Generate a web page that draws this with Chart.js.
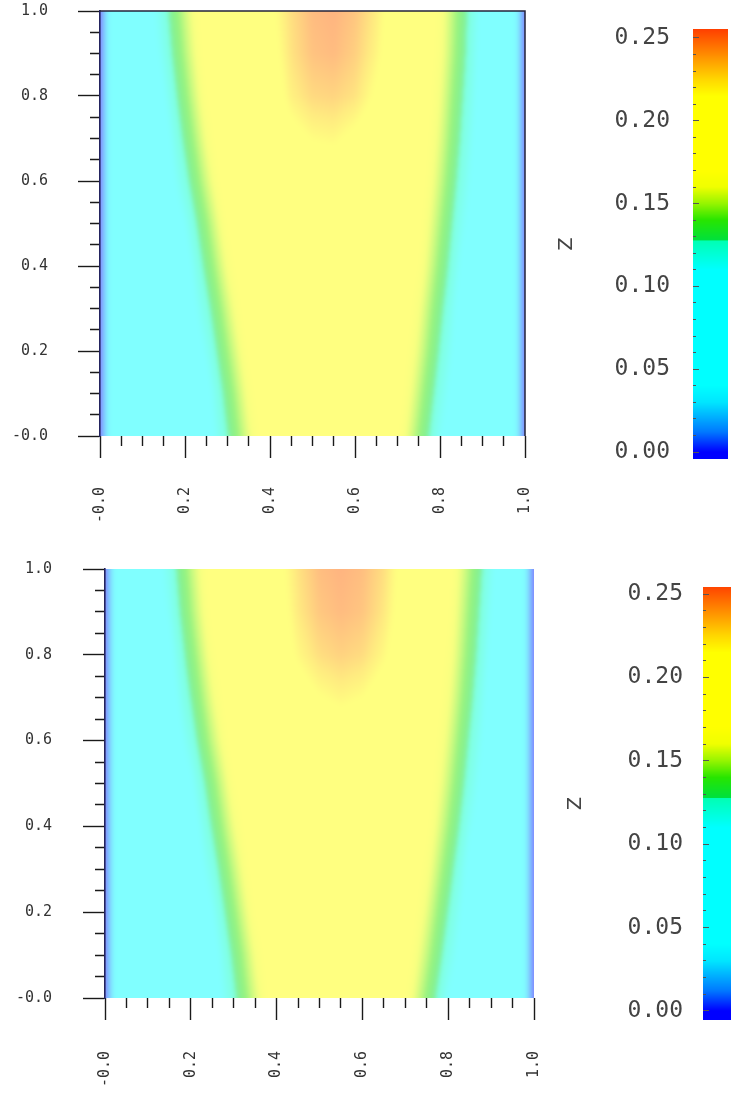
<!DOCTYPE html>
<html>
<head>
<meta charset="utf-8">
<script src="https://cdn.jsdelivr.net/npm/chart.js@4.4.1/dist/chart.umd.min.js"></script>
<style>
  html, body { margin: 0; padding: 0; background: #fff; }
  body { width: 731px; height: 1093px; position: relative; overflow: hidden; }
  canvas { position: absolute; }
</style>
</head>
<body>
<canvas id="mapTop" width="545" height="545" style="left:0;top:0"></canvas>
<canvas id="barTop" width="191" height="480" style="left:540px;top:0"></canvas>
<canvas id="mapBottom" width="560" height="543" style="left:0;top:550px"></canvas>
<canvas id="barBottom" width="181" height="480" style="left:550px;top:560px"></canvas>
<script>
// grid nodes of the Z field
const xGrid = [0, 0.05, 0.1, 0.15, 0.2, 0.25, 0.3, 0.35, 0.4, 0.45, 0.5, 0.55, 0.6, 0.65, 0.7, 0.75, 0.8, 0.85, 0.9, 0.95, 1];
const yGrid = [0, 0.1, 0.2, 0.3, 0.4, 0.5, 0.6, 0.7, 0.8, 0.9, 1];

// Z values, one row per yGrid entry (bottom row first)
const zTop = [
  [0, .085, .092, .092, .093, .100, .127, .157, .183, .193, .195, .195, .195, .189, .172, .142, .112, .095, .092, .085, 0],
  [0, .085, .092, .092, .093, .104, .134, .164, .186, .194, .195, .195, .195, .191, .178, .149, .119, .097, .092, .085, 0],
  [0, .085, .092, .092, .095, .113, .143, .172, .189, .195, .195, .195, .195, .193, .182, .156, .126, .100, .092, .085, 0],
  [0, .085, .092, .093, .098, .122, .152, .180, .192, .195, .195, .195, .195, .194, .186, .162, .132, .103, .093, .085, 0],
  [0, .085, .092, .093, .102, .132, .162, .185, .194, .195, .195, .195, .195, .195, .188, .169, .139, .109, .094, .085, 0],
  [0, .085, .092, .095, .111, .141, .171, .189, .195, .195, .196, .196, .195, .195, .190, .174, .145, .115, .096, .085, 0],
  [0, .085, .093, .098, .122, .152, .180, .192, .196, .198, .200, .200, .199, .196, .192, .179, .151, .121, .097, .085, 0],
  [0, .085, .093, .102, .131, .161, .185, .194, .198, .208, .216, .218, .210, .200, .193, .182, .156, .126, .099, .085, 0],
  [0, .085, .094, .109, .139, .169, .188, .195, .200, .222, .232, .234, .228, .212, .195, .184, .160, .130, .102, .085, 0],
  [0, .085, .096, .116, .146, .175, .190, .195, .205, .228, .241, .244, .236, .220, .198, .186, .164, .134, .104, .085, 0],
  [0, .085, .097, .121, .151, .179, .192, .197, .210, .230, .244, .247, .240, .224, .200, .187, .166, .136, .106, .085, 0]
];
const zBottom = [
  [0, .085, .092, .092, .093, .099, .124, .154, .181, .193, .195, .195, .195, .188, .170, .140, .110, .095, .092, .085, 0],
  [0, .085, .092, .092, .093, .102, .131, .161, .185, .194, .195, .195, .195, .191, .177, .149, .119, .097, .092, .085, 0],
  [0, .085, .092, .092, .095, .110, .140, .170, .188, .195, .195, .195, .195, .193, .183, .157, .127, .100, .092, .085, 0],
  [0, .085, .092, .093, .097, .119, .149, .178, .191, .195, .195, .195, .195, .194, .187, .165, .135, .105, .093, .085, 0],
  [0, .085, .092, .093, .100, .129, .159, .184, .193, .195, .195, .195, .195, .195, .189, .172, .143, .113, .095, .085, 0],
  [0, .085, .092, .094, .108, .138, .168, .188, .195, .195, .196, .196, .196, .195, .192, .178, .150, .120, .097, .085, 0],
  [0, .085, .093, .096, .119, .149, .177, .191, .196, .197, .199, .200, .200, .197, .193, .182, .156, .126, .100, .085, 0],
  [0, .085, .093, .101, .128, .158, .183, .193, .196, .205, .214, .219, .215, .205, .195, .186, .162, .132, .103, .085, 0],
  [0, .085, .094, .106, .136, .166, .187, .195, .200, .218, .230, .235, .231, .218, .200, .187, .167, .137, .107, .085, 0],
  [0, .085, .095, .113, .143, .173, .189, .195, .203, .225, .239, .244, .240, .226, .203, .189, .171, .141, .111, .085, 0],
  [0, .085, .096, .118, .148, .177, .191, .196, .207, .228, .243, .247, .243, .230, .205, .190, .174, .145, .115, .085, 0]
];

const axisTicks = [0, 0.2, 0.4, 0.6, 0.8, 1.0];
const axisLabels = ['-0.0', '0.2', '0.4', '0.6', '0.8', '1.0'];
const zTicks = [0, 0.05, 0.1, 0.15, 0.2, 0.25];
const zLabels = ['0.00', '0.05', '0.10', '0.15', '0.20', '0.25'];

// rainbow colour table
const cmapVals = [0, 0.012, 0.03, 0.04, 0.11, 0.1275, 0.128, 0.14, 0.15, 0.16, 0.17, 0.215, 0.225, 0.24, 0.25, 0.256];
const cmapRGB = [
  [0, 0, 255], [0, 120, 255], [0, 230, 255], [0, 255, 255], [0, 255, 255], [0, 255, 180],
  [0, 225, 60], [40, 230, 0], [150, 245, 0], [240, 255, 0], [255, 255, 0], [255, 255, 0],
  [255, 215, 0], [255, 140, 0], [255, 90, 0], [255, 60, 0]
];

const tickFont = { family: "'DejaVu Sans Mono', monospace", size: 15 };
const barFont = { family: "'DejaVu Sans Mono', monospace", size: 23 };

function colorAt(v) {
  if (v <= cmapVals[0]) return cmapRGB[0];
  for (let i = 1; i < cmapVals.length; i++) {
    if (v <= cmapVals[i]) {
      const t = (v - cmapVals[i - 1]) / (cmapVals[i] - cmapVals[i - 1]);
      const a = cmapRGB[i - 1], b = cmapRGB[i];
      return [a[0] + (b[0] - a[0]) * t, a[1] + (b[1] - a[1]) * t, a[2] + (b[2] - a[2]) * t];
    }
  }
  return cmapRGB[cmapRGB.length - 1];
}

// bilinear lookup inside the grid (clamped at the borders)
function sampleGrid(z, x, y) {
  let i = 0, j = 0;
  while (i < xGrid.length - 2 && x > xGrid[i + 1]) i++;
  while (j < yGrid.length - 2 && y > yGrid[j + 1]) j++;
  const tx = Math.min(1, Math.max(0, (x - xGrid[i]) / (xGrid[i + 1] - xGrid[i])));
  const ty = Math.min(1, Math.max(0, (y - yGrid[j]) / (yGrid[j + 1] - yGrid[j])));
  const lo = z[j][i] * (1 - tx) + z[j][i + 1] * tx;
  const hi = z[j + 1][i] * (1 - tx) + z[j + 1][i + 1] * tx;
  return lo * (1 - ty) + hi * ty;
}

const near = (v, list) => list.findIndex(t => Math.abs(t - v) < 1e-6);

// drop the extra room chart.js reserves around tick labels
function noLabelPadding(s) {
  s.paddingTop = 0; s.paddingBottom = 0; s.paddingLeft = 0; s.paddingRight = 0;
}

function heatmapLayer(z, framed) {
  return {
    id: 'heatmap',
    beforeDraw(chart) {
      const { ctx, scales: { x, y } } = chart;
      const left = x.getPixelForValue(xGrid[0]), right = x.getPixelForValue(xGrid[xGrid.length - 1]);
      const top = y.getPixelForValue(yGrid[yGrid.length - 1]), bottom = y.getPixelForValue(yGrid[0]);
      const m = 8;
      const w = Math.ceil(right - left) + 2 * m, h = Math.ceil(bottom - top) + 2 * m;
      const off = document.createElement('canvas');
      off.width = w; off.height = h;
      const octx = off.getContext('2d');
      const img = octx.createImageData(w, h);
      for (let r = 0; r < h; r++) {
        const yv = y.getValueForPixel(top - m + r + 0.5);
        for (let c = 0; c < w; c++) {
          const xv = x.getValueForPixel(left - m + c + 0.5);
          const rgb = colorAt(sampleGrid(z, xv, yv));
          const k = (r * w + c) * 4;
          // washed-out shading, half strength over white
          img.data[k] = 255 - (255 - rgb[0]) * 0.5;
          img.data[k + 1] = 255 - (255 - rgb[1]) * 0.5;
          img.data[k + 2] = 255 - (255 - rgb[2]) * 0.5;
          img.data[k + 3] = 255;
        }
      }
      octx.putImageData(img, 0, 0);
      ctx.save();
      ctx.beginPath();
      ctx.rect(left, top, right - left, bottom - top);
      ctx.clip();
      ctx.filter = 'blur(2px)';
      ctx.drawImage(off, left - m, top - m);
      ctx.restore();
    },
    afterDraw(chart) {
      if (!framed) return;
      const { ctx, chartArea: a } = chart;
      ctx.save();
      ctx.strokeStyle = '#23233a';
      ctx.lineWidth = 1.5;
      ctx.beginPath();
      ctx.moveTo(a.left, a.top);
      ctx.lineTo(a.right, a.top);
      ctx.lineTo(a.right, a.bottom);
      ctx.stroke();
      ctx.restore();
    }
  };
}

const colorbarLayer = {
  id: 'colorbar',
  beforeDraw(chart) {
    const { ctx, chartArea: a, scales: { y } } = chart;
    const top = Math.round(y.getPixelForValue(y.max)), bottom = Math.round(y.getPixelForValue(y.min));
    for (let py = top; py < bottom; py++) {
      const rgb = colorAt(y.getValueForPixel(py + 0.5));
      ctx.fillStyle = `rgb(${rgb[0] | 0},${rgb[1] | 0},${rgb[2] | 0})`;
      ctx.fillRect(a.left, py, a.right - a.left, 1);
    }
  }
};

function mapChart(id, z, box) {
  return new Chart(document.getElementById(id), {
    type: 'scatter',
    data: { datasets: [] },
    options: {
      responsive: false,
      animation: false,
      events: [],
      layout: { padding: { top: box.top, right: box.right, left: 0, bottom: 0 } },
      plugins: { legend: { display: false }, tooltip: { enabled: false } },
      scales: {
        x: {
          type: 'linear', min: 0, max: 1, position: 'bottom',
          ticks: {
            stepSize: 0.05, autoSkip: false, minRotation: 90, maxRotation: 90,
            padding: box.xPad, font: tickFont, color: '#333',
            callback: v => { const i = near(v, axisTicks); return i >= 0 ? axisLabels[i] : ''; }
          },
          grid: {
            drawOnChartArea: false, tickLength: 22, tickWidth: 1.4, tickColor: '#1a1a1a',
            tickBorderDash: c => near(c.tick.value, axisTicks) >= 0 ? [] : [10, 100]
          },
          border: { display: false },
          afterFit(s) { s.height = box.axisH; noLabelPadding(s); }
        },
        y: {
          type: 'linear', min: 0, max: 1, position: 'left',
          ticks: {
            stepSize: 0.05, autoSkip: false, padding: box.yPad, font: tickFont, color: '#333',
            callback: v => { const i = near(v, axisTicks); return i >= 0 ? axisLabels[i] : ''; }
          },
          grid: {
            drawOnChartArea: false, tickLength: 22, tickWidth: 1.4, tickColor: '#1a1a1a',
            tickBorderDash: c => near(c.tick.value, axisTicks) >= 0 ? [] : [0, 12, 10, 100]
          },
          border: { display: true, color: '#23235e', width: 1.6 },
          afterFit(s) { s.width = box.axisW; noLabelPadding(s); }
        }
      }
    },
    plugins: [heatmapLayer(z, box.framed)]
  });
}

function barChart(id, box) {
  return new Chart(document.getElementById(id), {
    type: 'scatter',
    data: { datasets: [] },
    options: {
      responsive: false,
      animation: false,
      events: [],
      layout: { padding: { top: box.top, bottom: box.bottom, right: box.right, left: 0 } },
      plugins: { legend: { display: false }, tooltip: { enabled: false } },
      scales: {
        x: { display: false, min: 0, max: 1 },
        y: {
          type: 'linear', min: box.min, max: box.max, position: 'left',
          ticks: {
            stepSize: 0.01, autoSkip: false, includeBounds: false, padding: box.pad,
            font: barFont, color: '#444',
            callback: v => { const i = near(v, zTicks); return i >= 0 ? zLabels[i] : ''; }
          },
          grid: { drawTicks: false, drawOnChartArea: true, color: '#555', lineWidth: 1 },
          border: { display: false, dash: c => near(c.tick.value, zTicks) >= 0 ? [6, 1000] : [3, 1000] },
          title: {
            display: true, text: 'Z', color: '#444',
            font: { family: "'DejaVu Sans', sans-serif", size: 19 },
            padding: { top: box.titlePad, bottom: 0 }
          },
          afterFit(s) { s.width = box.axisW; noLabelPadding(s); }
        }
      }
    },
    plugins: [colorbarLayer]
  });
}

mapChart('mapTop', zTop, { top: 11, right: 20, axisW: 100, axisH: 109, xPad: 29, yPad: 30, framed: true });
mapChart('mapBottom', zBottom, { top: 19, right: 26, axisW: 105, axisH: 95, xPad: 31, yPad: 31, framed: false });
barChart('barTop', { top: 29, bottom: 21, right: 3, axisW: 153, pad: 23, titlePad: 16, min: -0.0042, max: 0.2554 });
barChart('barBottom', { top: 27, bottom: 20, right: 0, axisW: 153, pad: 20, titlePad: 15, min: -0.0054, max: 0.2542 });
</script>
</body>
</html>
